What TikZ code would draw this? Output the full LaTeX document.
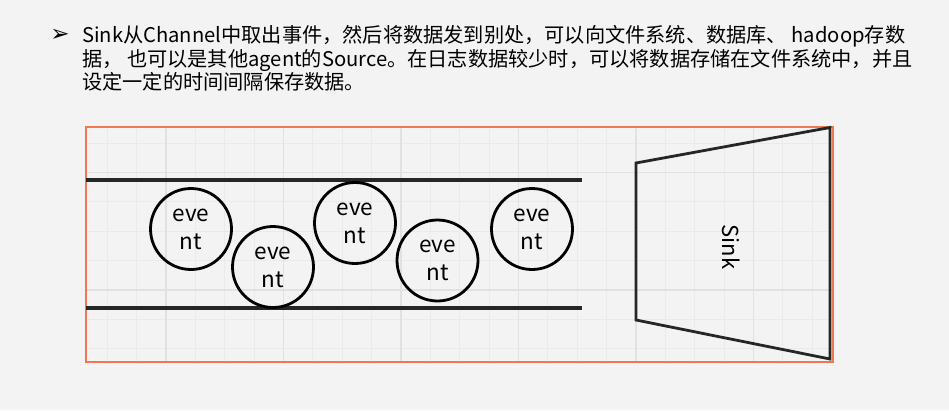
\documentclass[tikz,border=0pt]{standalone}
\usepackage{fontspec}
\setmainfont{Noto Sans CJK SC}
\newfontfamily\dejavu{DejaVu Sans}
\definecolor{bgcol}{RGB}{243,243,243}
\definecolor{framecol}{RGB}{240,120,80}
\definecolor{minorcol}{RGB}{234,234,234}
\definecolor{majorcol}{RGB}{225,225,225}
\tikzstyle{txtline} = [anchor=base west, inner sep=0pt, font=\fontsize{20.2}{24}\selectfont]
\tikzstyle{event} = [circle, draw, line width=2.8pt, minimum size=81pt, inner sep=0pt, align=center, font=\fontsize{22.5}{28}\selectfont]
\tikzstyle{pipe} = [line width=3.2pt, draw=black!85]

\begin{document}
\begin{tikzpicture}[x=1pt, y=-1pt]
%achtergrond
\fill[bgcol] (0,0) rectangle (949,410);
\useasboundingbox (0,0) rectangle (949,410);
%tekst
\node[font=\dejavu\fontsize{23}{23}\selectfont, inner sep=0pt] (bullet) at (60,35) {➢};
\node[txtline] (line1) at (82,42) {Sink从Channel中取出事件，然后将数据发到别处，可以向文件系统、数据库、 hadoop存数};
\node[txtline] (line2) at (82,66) {据， 也可以是其他agent的Source。在日志数据较少时，可以将数据存储在文件系统中，并且};
\node[txtline] (line3) at (82,89.5) {设定一定的时间间隔保存数据。};
%raster
\begin{scope}
\clip (86,127) rectangle (833,362);
\foreach \k in {2,...,26}
    \draw[minorcol, line width=1pt] (48.5+29.375*\k,127) -- (48.5+29.375*\k,362);
\foreach \k in {3,...,10}
    \draw[minorcol, line width=1pt] (86,55+29.375*\k) -- (833,55+29.375*\k);
\foreach \k in {4,8,...,24}
    \draw[majorcol, line width=1.5pt] (48.5+29.375*\k,127) -- (48.5+29.375*\k,362);
\foreach \k in {4,8}
    \draw[majorcol, line width=1.5pt] (86,55+29.375*\k) -- (833,55+29.375*\k);
\end{scope}
%kader
\node[draw=framecol, line width=2pt, inner sep=0pt, minimum width=747pt, minimum height=235pt] (frame) at (459.5,244.5) {};
%channel
\coordinate (topL) at (86,180);
\coordinate (topR) at (582,180);
\coordinate (botL) at (86,308);
\coordinate (botR) at (582,308);
\draw[pipe] (topL) -- (topR);
\draw[pipe] (botL) -- (botR);
%events
\node[event] (ev1) at (191,229) {eve\\nt};
\node[event] (ev2) at (273,267) {eve\\nt};
\node[event] (ev3) at (355,223) {eve\\nt};
\node[event] (ev4) at (437.5,260.5) {eve\\nt};
\node[event] (ev5) at (532,229) {eve\\nt};
%sink
\coordinate (s1) at (636,163);
\coordinate (s2) at (830,127.5);
\coordinate (s3) at (830,359);
\coordinate (s4) at (636,320);
\draw[line width=2.8pt, black!85, line join=miter] (s1) -- (s2) -- (s3) -- (s4) -- cycle;
\node[rotate=-90, inner sep=0pt, font=\fontsize{22}{22}\selectfont] (sink) at (731,247) {Sink};
\end{tikzpicture}
\end{document}
